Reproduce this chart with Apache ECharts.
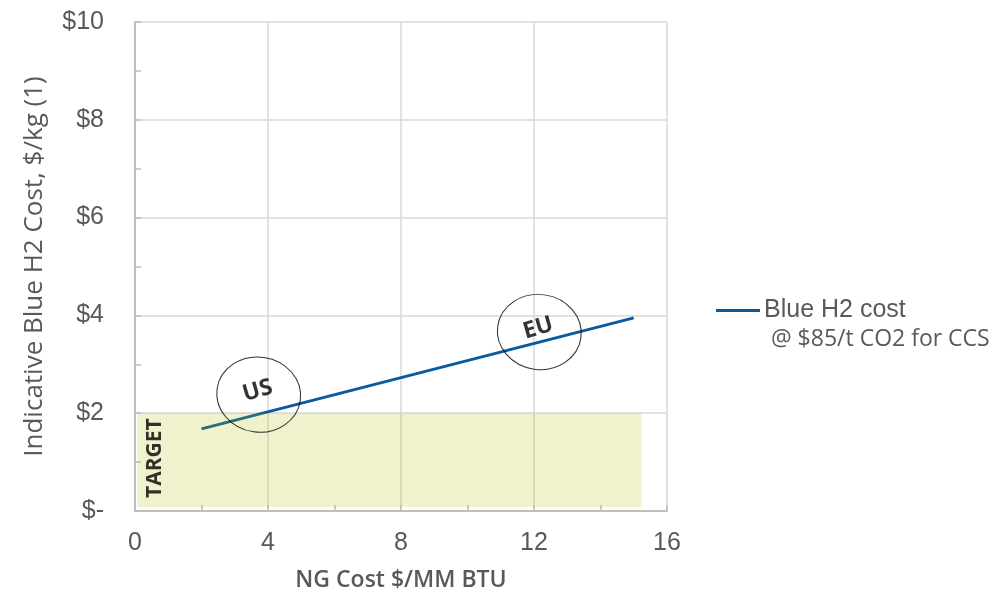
<!DOCTYPE html>
<html>
<head>
<meta charset="utf-8">
<script src="https://cdn.jsdelivr.net/npm/echarts@6/dist/echarts.min.js"></script>
<style>
  html, body { margin: 0; padding: 0; background: #fff; }
  #chart { width: 999px; height: 598px; }
</style>
</head>
<body>
<div id="chart"></div>
<script>
// NG price ($/MM BTU) vs indicative blue hydrogen cost ($/kg)
const ngCost = [2, 15];
const h2Cost = [1.68, 3.95];

// Cost target band ($/kg)
const targetX = [0.06, 15.23];
const targetY = [0.08, 2];

// Region call-outs: [NG cost, H2 cost, label]
const regions = [
  [3.72, 2.38, 'US'],
  [12.16, 3.66, 'EU']
];

const xTicks = [0, 4, 8, 12, 16];
const yTicks = [0, 2, 4, 6, 8, 10];

const grey = '#595959';
const condensed = '"Open Sans", "Noto Sans", sans-serif';
const arial = '"Liberation Sans", Arial, sans-serif';

const chart = echarts.init(document.getElementById('chart'));
chart.setOption({
  animation: false,
  grid: { left: 135, right: 332, top: 22, bottom: 87 },
  legend: {
    left: 716, top: 298, padding: 0,
    icon: 'rect', itemWidth: 44, itemHeight: 3, itemGap: 0,
    textStyle: { fontFamily: arial, fontSize: 25, color: grey, padding: [0, 0, 0, -1] },
    data: ['Blue H2 cost']
  },
  graphic: [{
    type: 'text', left: 771, top: 328,
    style: { text: '@ $85/t CO2 for CCS', font: '23px ' + condensed, fill: grey }
  }],
  xAxis: {
    type: 'value', min: xTicks[0], max: xTicks[xTicks.length - 1], interval: 4,
    name: 'NG Cost $/MM BTU', nameLocation: 'middle', nameGap: 58,
    nameTextStyle: { fontFamily: condensed, fontSize: 23, fontWeight: 600, color: grey },
    axisLine: { show: true, lineStyle: { color: '#bfbfbf', width: 2 } },
    axisTick: { show: true, inside: true, length: 6, lineStyle: { color: '#bfbfbf', width: 1.5 } },
    minorTick: { show: true, splitNumber: 2, length: 6, lineStyle: { color: '#bfbfbf', width: 1.5 } },
    axisLabel: { fontFamily: arial, fontSize: 25, color: grey, margin: 20 },
    splitLine: { show: true, lineStyle: { color: '#d9d9d9', width: 1.5 } }
  },
  yAxis: {
    type: 'value', min: yTicks[0], max: yTicks[yTicks.length - 1], interval: 2,
    name: 'Indicative Blue H2 Cost, $/kg (1)', nameLocation: 'middle', nameGap: 87,
    nameTextStyle: { fontFamily: condensed, fontSize: 26, color: grey },
    axisLine: { show: true, lineStyle: { color: '#bfbfbf', width: 2 } },
    axisTick: { show: true, inside: true, length: 6, lineStyle: { color: '#bfbfbf', width: 1.5 } },
    minorTick: { show: true, splitNumber: 2, length: 6, lineStyle: { color: '#bfbfbf', width: 1.5 } },
    axisLabel: {
      fontFamily: arial, fontSize: 25, color: grey, margin: 31,
      formatter: v => v === 0 ? '$-' : '$' + v
    },
    splitLine: { show: true, lineStyle: { color: '#d9d9d9', width: 1.5 } }
  },
  series: [
    {
      name: 'Blue H2 cost', type: 'line', z: 2,
      data: ngCost.map((x, i) => [x, h2Cost[i]]),
      showSymbol: false, symbol: 'none',
      lineStyle: { color: '#0a5a9c', width: 3 },
      itemStyle: { color: '#0a5a9c' }
    },
    {
      name: 'target', type: 'scatter', z: 6, silent: true,
      data: [[0.6, 1.08]],
      symbolSize: 0,
      label: {
        show: true, position: 'inside', rotate: 90,
        formatter: 'TARGET',
        fontFamily: condensed, fontSize: 21, fontWeight: 'bold', color: '#000'
      },
      markArea: {
        silent: true, z: 5,
        itemStyle: { color: 'rgba(175,190,0,0.2)' },
        data: [[{ coord: [targetX[0], targetY[0]] }, { coord: [targetX[1], targetY[1]] }]]
      }
    },
    {
      name: 'regions', type: 'scatter', z: 7, silent: true,
      data: regions.map(r => ({ value: [r[0], r[1]], name: r[2] })),
      symbol: 'circle', symbolSize: [84, 75], symbolRotate: -8,
      itemStyle: { color: 'rgba(0,0,0,0)', borderColor: '#000', borderWidth: 1 },
      label: {
        show: true, position: 'inside', rotate: 16, offset: [0, -4],
        formatter: p => p.name,
        fontFamily: condensed, fontSize: 23, fontWeight: 'bold', color: '#000'
      }
    }
  ]
});
</script>
</body>
</html>
